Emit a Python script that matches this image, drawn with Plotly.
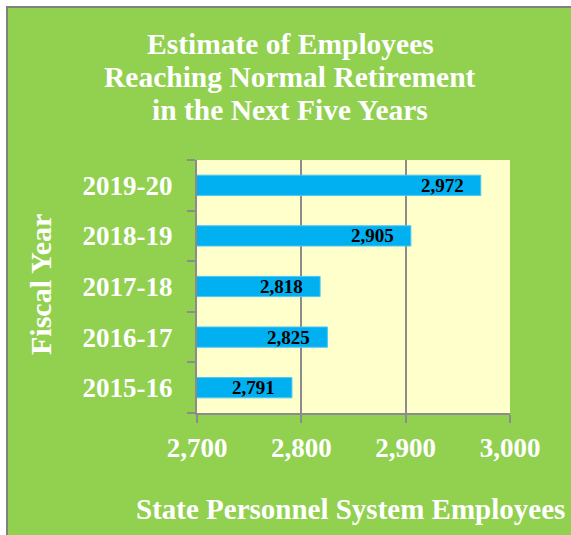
import plotly.graph_objects as go

# Fiscal years (bottom to top) and employee counts
fiscal_years = ["2015-16", "2016-17", "2017-18", "2018-19", "2019-20"]
employees = [2791, 2825, 2818, 2905, 2972]
x_ticks = [2700, 2800, 2900, 3000]
x_tick_labels = ["2,700", "2,800", "2,900", "3,000"]
title_lines = [
    "Estimate of Employees",
    "Reaching Normal Retirement",
    "in the Next Five Years",
]

GREEN = "#92D050"
PLOT_BG = "#FFFFCC"
BAR = "#00B0F0"
GRAY = "#8C8C8C"
FONT = "Liberation Serif"

W, H = 571, 535
L, R, T, B = 197, 61, 160, 122
PW, PH = W - L - R, H - T - B


def px_x(p):
    return (p - L) / PW


def px_y(p):
    return (H - B - p) / PH


fig = go.Figure(
    go.Bar(
        x=employees,
        y=fiscal_years,
        orientation="h",
        width=0.4,
        marker=dict(color=BAR, line=dict(color="#4fc6f3", width=1)),
        hoverinfo="skip",
    )
)

# value labels just inside the end of each bar
for yr, v in zip(fiscal_years, employees):
    fig.add_annotation(
        x=v, y=yr, xref="x", yref="y",
        text=f"<b>{v:,}</b>", showarrow=False,
        xanchor="right", yanchor="middle", xshift=-15,
        font=dict(family=FONT, size=19, color="black"),
    )

# chart title, one annotation per line for tighter leading
for i, line in enumerate(title_lines):
    fig.add_annotation(
        x=px_x(290), y=px_y(44 + 33 * i), xref="paper", yref="paper",
        text=f"<b>{line}</b>",
        showarrow=False, xanchor="center", yanchor="middle",
        font=dict(family=FONT, size=29.5, color="white"),
    )

# axis titles
fig.add_annotation(
    x=px_x(350), y=px_y(509), xref="paper", yref="paper",
    text="<b>State Personnel System Employees</b>", showarrow=False,
    xanchor="center", yanchor="middle",
    font=dict(family=FONT, size=29, color="white"),
)
fig.add_annotation(
    x=px_x(40), y=px_y(285), xref="paper", yref="paper",
    text="<b>Fiscal Year</b>", showarrow=False, textangle=-90,
    xanchor="center", yanchor="middle",
    font=dict(family=FONT, size=30, color="white"),
)

# white page margin and grey frame at top and left
for x0, x1, y0, y1, col in [
    (px_x(0), px_x(6), px_y(600), px_y(-10), "white"),
    (px_x(0), px_x(600), px_y(6), px_y(-10), "white"),
    (px_x(6), px_x(8), px_y(600), px_y(6), "#808080"),
    (px_x(6), px_x(600), px_y(8), px_y(6), "#808080"),
]:
    fig.add_shape(type="rect", xref="paper", yref="paper",
                  x0=x0, x1=x1, y0=y0, y1=y1,
                  fillcolor=col, line=dict(width=0), layer="above")

fig.update_layout(
    width=W, height=H,
    margin=dict(l=L, r=R, t=T, b=B, pad=0),
    paper_bgcolor=GREEN,
    plot_bgcolor=PLOT_BG,
    showlegend=False,
    xaxis=dict(
        range=[2700, 3000], tickvals=x_ticks,
        ticktext=[f"<b>{t}</b>" for t in x_tick_labels],
        showgrid=True, gridcolor=GRAY, gridwidth=2,
        showline=True, linecolor=GRAY, linewidth=2,
        ticks="outside", ticklen=8, tickwidth=2, tickcolor=GRAY,
        tickfont=dict(family=FONT, size=27, color="white"),
        ticklabelstandoff=2, zeroline=False, fixedrange=True,
    ),
    yaxis=dict(
        categoryorder="array", categoryarray=fiscal_years,
        tickvals=fiscal_years,
        ticktext=[f"<b>{t}</b>" for t in fiscal_years],
        showgrid=False, showline=True, linecolor=GRAY, linewidth=2,
        ticks="outside", ticklen=8, tickwidth=2, tickcolor=GRAY,
        tickson="boundaries",
        tickfont=dict(family=FONT, size=27, color="white"),
        ticklabelstandoff=17, fixedrange=True,
    ),
)

fig.write_html("out.html", config={"displayModeBar": False})
